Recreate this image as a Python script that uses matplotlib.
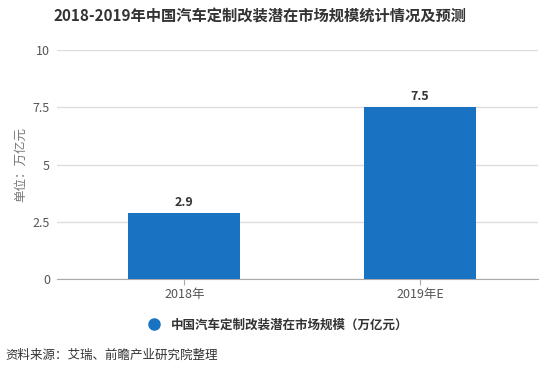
import numpy as np
import matplotlib.pyplot as plt
from matplotlib.lines import Line2D

plt.rcParams['font.family'] = ['Noto Sans CJK SC', 'DejaVu Sans']

categories = ['2018年', '2019年E']
values = [2.9, 7.5]
yticks = [0, 2.5, 5, 7.5, 10]
ytick_labels = ['0', '2.5', '5', '7.5', '10']

bar_color = '#1a73c2'
grid_color = '#dddddd'
text_gray = '#555555'

fig = plt.figure(figsize=(5.5, 3.77), dpi=100)
ax = fig.add_axes([0.1036, 0.259, 0.8744, 0.608])

x = np.arange(len(categories))
bars = ax.bar(x, values, width=0.475, color=bar_color, zorder=3)
for xi, v in zip(x, values):
    ax.annotate(f'{v}', (xi, v), xytext=(0, 3), textcoords='offset points',
                ha='center', va='bottom', fontsize=9, fontweight='bold', color='#333333')

ax.set_xlim(-0.54, 1.5)
ax.set_ylim(0, 10)
ax.set_yticks(yticks)
ax.set_yticklabels(ytick_labels)
ax.set_xticks(x)
ax.set_xticklabels(categories)
ax.grid(axis='y', color=grid_color, linewidth=1, zorder=0)
for s in ['top', 'right', 'left']:
    ax.spines[s].set_visible(False)
ax.spines['bottom'].set_color('#aaaaaa')
ax.tick_params(axis='y', length=0, pad=5, labelsize=9, labelcolor=text_gray)
ax.tick_params(axis='x', length=4, color='#aaaaaa', labelsize=9, labelcolor=text_gray, pad=2)
ax.set_ylabel('单位：万亿元', fontsize=9, color='#777777', labelpad=4)

fig.text(0.473, 0.955, '2018-2019年中国汽车定制改装潜在市场规模统计情况及预测',
         ha='center', va='center', fontsize=11, fontweight='bold', color='#333333')

handle = Line2D([], [], marker='o', linestyle='none', markersize=8,
                markerfacecolor=bar_color, markeredgecolor=bar_color)
fig.legend([handle], ['中国汽车定制改装潜在市场规模（万亿元）'], loc='center',
           bbox_to_anchor=(0.5, 0.138), frameon=False, handletextpad=0.3,
           prop={'size': 9, 'weight': 'bold'}, labelcolor='#333333')

fig.text(0.01, 0.058, '资料来源：艾瑞、前瞻产业研究院整理', ha='left', va='center',
         fontsize=9, color='#333333')

fig.savefig('out.png', dpi=100)
